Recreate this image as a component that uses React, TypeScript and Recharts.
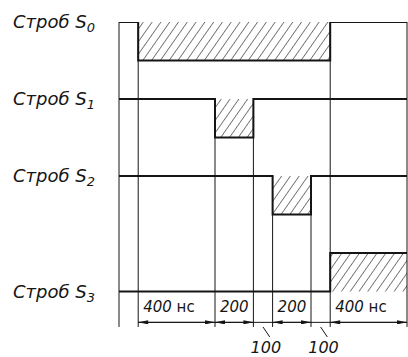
import React from 'react';
import { ComposedChart, Line, Area, XAxis, YAxis, ReferenceLine, ReferenceDot } from 'recharts';

// time marks of the diagram, ns
const TIMES_NS = [-100, 0, 400, 600, 700, 900, 1000, 1400];

// logic level of each strobe after every time mark
const S0 = [1, 0, 0, 0, 0, 0, 1, 1];
const S1 = [1, 1, 0, 1, 1, 1, 1, 1];
const S2 = [1, 1, 1, 1, 0, 1, 1, 1];
const S3 = [0, 0, 0, 0, 0, 0, 1, 1];
const SIGNALS = [S0, S1, S2, S3];
const SIGNAL_SUBSCRIPTS = ['0', '1', '2', '3'];

// hatched (undefined) windows, one per strobe
const HATCH_NS: [number, number][] = [
  [0, 1000],
  [400, 600],
  [700, 900],
  [1000, 1400],
];

// durations written under the diagram
const SPAN_LABELS = ['400', '200', '100', '200', '100', '400'];
const SPAN_UNITS = ['нс', '', '', '', '', 'нс'];

const INK = '#151515';
const FONT = '"DejaVu Sans", sans-serif';

const high = (k: number) => 4 - k;
const low = (k: number) => 3.5 - k;
const level = (k: number, bit: number) => (bit ? high(k) : low(k));

const DIM_Y = 0.1; // dimension line level
const GRID_BOTTOM = 0.04;

const rows = TIMES_NS.map((t, i) => {
  const row: Record<string, unknown> = { t };
  SIGNALS.forEach((s, k) => {
    row[`s${k}`] = level(k, s[i]);
    const [a, b] = HATCH_NS[k];
    row[`h${k}`] = t >= a && t <= b ? [low(k), high(k)] : null;
  });
  return row;
});

// top of each vertical guide: the first strobe that switches there
const gridTop = TIMES_NS.map((_, i) => {
  if (i === 0 || i === TIMES_NS.length - 1) return high(0);
  const k = SIGNALS.findIndex((s) => s[i] !== s[i - 1]);
  return high(k < 0 ? 0 : k);
});

const startLevels = SIGNALS.map((s, k) => level(k, s[0]));

function SignalTick(props: any) {
  const { y, payload } = props;
  const k = startLevels.indexOf(payload.value);
  if (k < 0) return null;
  return (
    <text x={13} y={y + 6} fontFamily={FONT} fontStyle="italic" fontSize={18} fill={INK}>
      Строб S
      <tspan fontSize={13} dy={4}>
        {SIGNAL_SUBSCRIPTS[k]}
      </tspan>
    </text>
  );
}

export default function App() {
  const spans = TIMES_NS.slice(1, -1).map((t, i) => ({
    from: t,
    to: TIMES_NS[i + 2],
    label: SPAN_LABELS[i],
    unit: SPAN_UNITS[i],
  }));

  return (
    <div style={{ position: 'absolute', left: 0, top: 0, background: '#fff' }}>
      <svg width={0} height={0} style={{ position: 'absolute' }}>
        <defs>
          <pattern
            id="hatch"
            patternUnits="userSpaceOnUse"
            width={7.2}
            height={10}
            patternTransform="rotate(35)"
          >
            <line x1={0} y1={0} x2={0} y2={10} stroke={INK} strokeWidth={1.1} />
          </pattern>
          <marker
            id="arrow"
            viewBox="0 0 10 4"
            refX={10}
            refY={2}
            markerUnits="userSpaceOnUse"
            markerWidth={11}
            markerHeight={4}
            orient="auto-start-reverse"
          >
            <path d="M0,0 L10,2 L0,4 z" fill={INK} />
          </marker>
        </defs>
      </svg>
      <ComposedChart
        width={408}
        height={357}
        data={rows}
        margin={{ top: 22, right: 1, bottom: 0, left: 0 }}
      >
        <XAxis type="number" dataKey="t" domain={[-100, 1400]} hide allowDataOverflow />
        <YAxis
          type="number"
          domain={[-0.35, 4]}
          ticks={startLevels}
          interval={0}
          width={119}
          axisLine={false}
          tickLine={false}
          tick={(p: any) => <SignalTick {...p} />}
          allowDataOverflow
        />

        {SIGNALS.map((_, k) => (
          <Area
            key={`h${k}`}
            dataKey={`h${k}`}
            type="linear"
            stroke="none"
            fill="url(#hatch)"
            fillOpacity={1}
            dot={false}
            activeDot={false}
            isAnimationActive={false}
          />
        ))}

        {TIMES_NS.map((t, i) => (
          <ReferenceLine
            key={`g${t}`}
            segment={[
              { x: t, y: gridTop[i] },
              { x: t, y: GRID_BOTTOM },
            ]}
            stroke={INK}
            strokeWidth={1}
            ifOverflow="visible"
          />
        ))}

        {SIGNALS.map((_, k) => (
          <Line
            key={`s${k}`}
            dataKey={`s${k}`}
            type="stepAfter"
            stroke={INK}
            strokeWidth={2}
            strokeLinejoin="miter"
            dot={false}
            activeDot={false}
            isAnimationActive={false}
          />
        ))}

        <ReferenceLine
          segment={[
            { x: TIMES_NS[1], y: DIM_Y },
            { x: TIMES_NS[TIMES_NS.length - 1], y: DIM_Y },
          ]}
          stroke={INK}
          strokeWidth={1}
          ifOverflow="visible"
        />
        {spans
          .filter((s) => s.to - s.from > 100)
          .map((s) => (
            <ReferenceLine
              key={`a${s.from}`}
              segment={[
                { x: s.from, y: DIM_Y },
                { x: s.to, y: DIM_Y },
              ]}
              stroke={INK}
              strokeWidth={1}
              markerStart="url(#arrow)"
              markerEnd="url(#arrow)"
              ifOverflow="visible"
            />
          ))}

        {spans.map((s) =>
          s.to - s.from > 100 ? (
            <ReferenceDot
              key={`l${s.from}`}
              x={s.from}
              y={DIM_Y}
              r={0}
              ifOverflow="visible"
              shape={(p: any) => (
                <text
                  x={p.cx + 5}
                  y={p.cy - 10.5}
                  fontFamily={FONT}
                  fontStyle="italic"
                  fontSize={15}
                  fill={INK}
                >
                  {s.label}
                  {s.unit ? <tspan fontStyle="normal">{' ' + s.unit}</tspan> : null}
                </text>
              )}
            />
          ) : (
            <React.Fragment key={`l${s.from}`}>
              <ReferenceLine
                segment={[
                  { x: (s.from + s.to) / 2, y: GRID_BOTTOM },
                  { x: (s.from + s.to) / 2 + 35, y: -0.09 },
                ]}
                stroke={INK}
                strokeWidth={1}
                ifOverflow="visible"
              />
              <ReferenceDot
                x={(s.from + s.to) / 2 + 15}
                y={-0.3}
                r={0}
                ifOverflow="visible"
                shape={(p: any) => (
                  <text
                    x={p.cx}
                    y={p.cy}
                    textAnchor="middle"
                    fontFamily={FONT}
                    fontStyle="italic"
                    fontSize={16}
                    fill={INK}
                  >
                    {s.label}
                  </text>
                )}
              />
            </React.Fragment>
          )
        )}
      </ComposedChart>
    </div>
  );
}
